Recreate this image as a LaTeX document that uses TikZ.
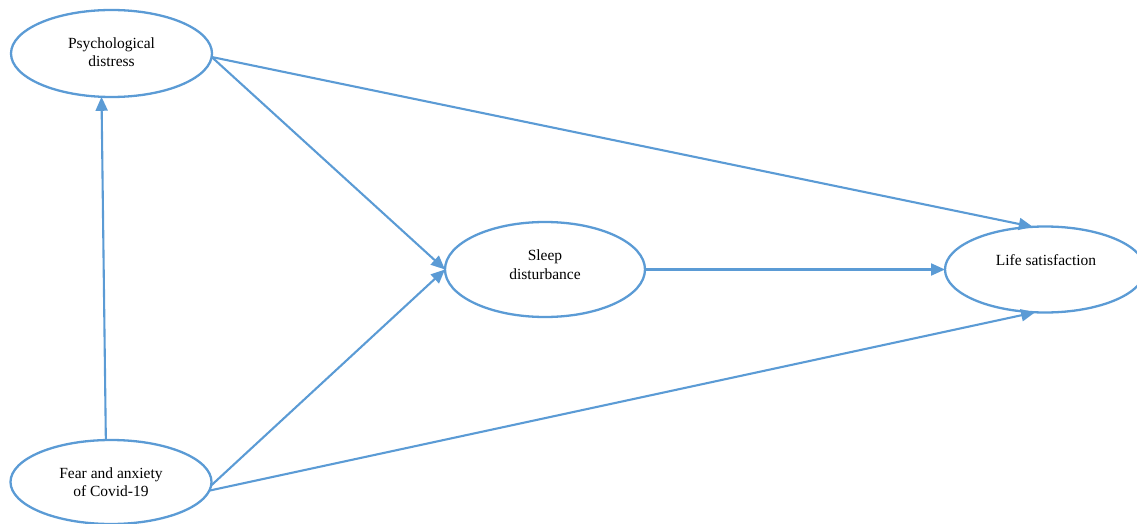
\documentclass[tikz,border=0pt]{standalone}
\usepackage{fontspec}
\setmainfont{Liberation Serif}
\usetikzlibrary{arrows.meta,shapes.geometric}
\definecolor{edgeblue}{RGB}{91,155,213}
\begin{document}
\begin{tikzpicture}[x=1pt,y=-1pt,
  construct/.style={ellipse, draw=edgeblue, line width=2.3pt, inner sep=0pt, outer sep=0pt},
  label text/.style={font=\fontsize{15.5}{18.5}\selectfont, align=center, inner sep=0pt},
  path arrow/.style={draw=edgeblue, line width=2.1pt, -{Triangle[length=14pt,width=12pt]}}]
  \useasboundingbox (0,0) rectangle (1137,524);
  \clip (0,0) rectangle (1137,524);

  % constructs
  \node[construct, minimum width=201pt, minimum height=87pt] (psych) at (111.5,53.5) {};
  \node[construct, minimum width=200pt, minimum height=95pt] (sleep) at (545,269.5) {};
  \node[construct, minimum width=200pt, minimum height=86pt] (life) at (1045,269.5) {};
  \node[construct, minimum width=201pt, minimum height=84pt] (fear) at (111,482) {};

  % construct names
  \node[label text] (psychT) at (111.5,52) {Psychological\\distress};
  \node[label text] (sleepT) at (545,264.5) {Sleep\\disturbance};
  \node[label text, anchor=base] (lifeT) at (1046,265) {Life satisfaction};
  \node[label text] (fearT) at (111,482) {Fear and anxiety\\of Covid-19};

  % structural paths
  \draw[path arrow] (fear.97) -- (psych.-103);
  \draw[path arrow] (psych.-2) -- (sleep.180);
  \draw[path arrow] (psych.-2) -- (life.106);
  \draw[path arrow] (fear.-2) -- (sleep.180);
  \draw[path arrow] (fear.-5) -- (life.-103);
  \draw[path arrow] (sleep.0) -- (life.180);
\end{tikzpicture}
\end{document}
